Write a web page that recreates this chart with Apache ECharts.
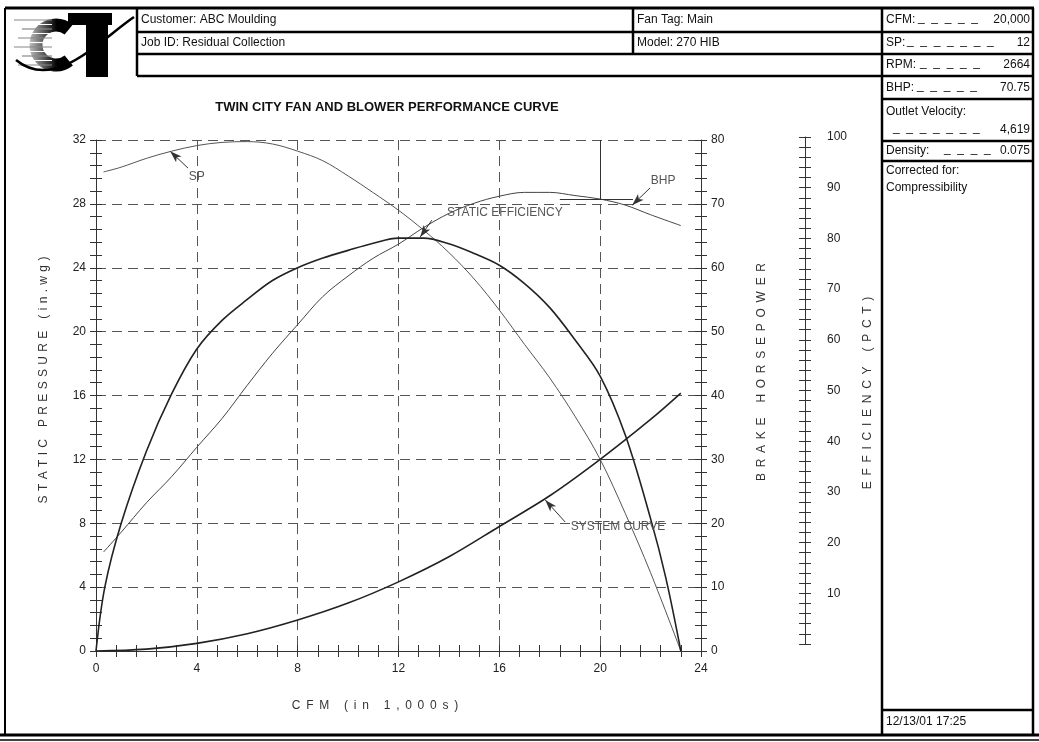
<!DOCTYPE html>
<html><head><meta charset="utf-8">
<script src="https://cdn.jsdelivr.net/npm/echarts@6/dist/echarts.min.js"></script>
<style>html,body{margin:0;padding:0;background:#fff}#c{width:1039px;height:742px}</style>
</head><body><div id="c"></div>
<script>
const FONT = '"Liberation Sans", Arial, sans-serif';

// ---------- data ----------
const spCfm     = [0.3, 1, 2, 3, 4, 5, 6, 7, 8, 9, 10, 11, 12, 13, 14, 15, 16, 17, 18, 19, 20, 21, 22, 23.2];
const spValues  = [30.0, 30.3, 30.85, 31.3, 31.65, 31.85, 31.9, 31.75, 31.3, 30.7, 29.75, 28.7, 27.6, 26.35, 24.95, 23.3, 21.35, 19.2, 17.1, 14.7, 12.0, 8.6, 4.9, 0];

const bhpCfm    = [0.3, 1, 2, 3, 4, 5, 6, 7, 8, 9, 10, 11, 12, 13, 14, 15, 16, 17, 18, 19, 20, 21, 22, 23.2];
const bhpValues = [15.5, 18.6, 23.2, 27.3, 31.9, 36.4, 41.6, 46.6, 51.1, 55.5, 58.7, 61.5, 63.7, 66.3, 68.5, 70.1, 71.2, 71.8, 71.8, 71.3, 70.75, 69.8, 68.3, 66.6];

const effCfm    = [0, 0.35, 1, 2, 3, 4, 5, 6, 7, 8, 9, 10, 11, 12, 13, 14, 15, 16, 17, 18, 19, 20, 21, 22, 22.6, 23.2];
const effValues = [0, 12.5, 25.0, 39.1, 50.3, 59.1, 64.7, 68.8, 72.5, 75.0, 76.9, 78.4, 79.8, 80.8, 80.8, 79.7, 77.8, 75.5, 71.9, 67.2, 60.9, 53.8, 42.2, 25.9, 14.4, 0];

const sysCfm    = [0, 2, 4, 6, 8, 10, 12, 14, 16, 18, 20, 22, 23.2];
const sysValues = [0, 0.12, 0.48, 1.08, 1.94, 3.0, 4.33, 5.9, 7.8, 9.72, 12.0, 14.5, 16.15];

const opCfm = 20, opSp = 12, opBhp = 70.75;

const headerLeft  = ['Customer: ABC Moulding', 'Job ID: Residual Collection'];
const headerMid   = ['Fan Tag: Main', 'Model: 270 HIB'];
const specLabels  = ['CFM:', 'SP:', 'RPM:', 'BHP:'];
const specValues  = ['20,000', '12', '2664', '70.75'];
const specDashes  = [5, 7, 5, 5];
const outletVelocity = '4,619';
const densityValue = '0.075';
const dateStamp = '12/13/01 17:25';

// annotation anchor points (data space)
const notes = {
  sp:  {tip: [2.94, 31.3],  elbow: [3.65, 30.24], label: [4.0, 29.7],   text: 'SP'},
  bhp: {tip: [21.27, 69.8], elbow: [21.98, 72.5], label: [22.5, 73.6],  text: 'BHP'},
  eff: {tip: [12.86, 81.0], elbow: [13.32, 84.3], label: [16.22, 85.7], text: 'STATIC EFFICIENCY'},
  sys: {tip: [17.82, 9.46], elbow: [18.61, 8.08], label: [20.71, 7.76], text: 'SYSTEM CURVE'}
};

// ---------- helpers ----------
const zip = (a, b) => a.map((x, i) => [x, b[i]]);
const dashes = n => Array(n).fill('_').join('  ');
const spaced = (s, sep) => s.split('').join(sep || '\u2009 ');
function arrowMark(n) {
  return {
    silent: true, animation: false,
    lineStyle: {color: '#333', width: 1, type: 'solid'},
    label: {show: false},
    data: [[{coord: n.tip, symbol: 'arrow', symbolSize: [6, 12], itemStyle: {color: '#222'}}, {coord: n.elbow, symbol: 'none'}]]
  };
}
function labelMark(n) {
  return {
    silent: true, animation: false, symbol: 'circle', symbolSize: 0,
    label: {show: true, position: 'inside', formatter: n.text, color: '#555', fontSize: 12, fontFamily: FONT},
    data: [{coord: n.label}]
  };
}
const gl = (x1, y1, x2, y2, w) => ({type: 'line', shape: {x1, y1, x2, y2}, style: {stroke: '#000', lineWidth: w || 2.5}, silent: true});
const gt = (x, y, text, o) => ({type: 'text', x, y, silent: true, style: Object.assign({text, fill: '#111', font: '12px ' + FONT, textVerticalAlign: 'middle'}, o || {})});

const tickStyle = {color: '#333', width: 1};
function valueAxisBase(extra) {
  return Object.assign({
    type: 'value',
    axisLine: {show: true, onZero: false, lineStyle: {color: '#333', width: 1}},
    axisTick: {show: true, length: 6, lineStyle: tickStyle},
    minorTick: {show: true, splitNumber: 5, length: 6, lineStyle: tickStyle},
    axisLabel: {color: '#222', fontSize: 12, fontFamily: FONT},
    splitLine: {show: false}
  }, extra);
}
function innerDup(extra) {
  return Object.assign({
    type: 'value',
    axisLine: {show: false, onZero: false},
    axisTick: {show: true, inside: true, length: 6, lineStyle: tickStyle},
    minorTick: {show: true, splitNumber: 5, length: 6, lineStyle: tickStyle},
    axisLabel: {show: false},
    splitLine: {show: false}
  }, extra);
}
const dashGrid = {show: true, lineStyle: {color: '#555', width: 1, type: [10, 6]}};

// ---------- graphic (header table, logo, titles) ----------
const g = [];
// outer frame
g.push(gl(5, 8, 1034, 8, 3));
g.push(gl(5, 8, 5, 736, 2));
g.push(gl(1033, 8, 1033, 735, 2.5));
g.push(gl(0, 735, 1039, 735, 3));
g.push(gl(0, 740, 1039, 740, 1.5));
// header grid
g.push(gl(137, 8, 137, 76));
g.push(gl(137, 32, 1033, 32));
g.push(gl(137, 54, 1033, 54));
g.push(gl(137, 76, 1033, 76));
g.push(gl(633, 8, 633, 54));
g.push(gl(882, 8, 882, 735));
[99, 141, 161, 710].forEach(y => g.push(gl(882, y, 1033, y)));
// header texts
g.push(gt(141, 20, headerLeft[0]));
g.push(gt(141, 43, headerLeft[1]));
g.push(gt(637, 20, headerMid[0]));
g.push(gt(637, 43, headerMid[1]));
const specY = [20, 43, 65, 88];
const dashX = [918, 907, 920, 917];
specLabels.forEach((s, i) => {
  g.push(gt(886, specY[i], s));
  g.push(gt(dashX[i], specY[i] - 2, dashes(specDashes[i])));
  g.push(gt(1030, specY[i], specValues[i], {textAlign: 'right'}));
});
g.push(gt(886, 112, 'Outlet Velocity:'));
g.push(gt(893, 128, dashes(7)));
g.push(gt(1030, 130, outletVelocity, {textAlign: 'right'}));
g.push(gt(886, 151, 'Density:'));
g.push(gt(944, 149, dashes(4)));
g.push(gt(1030, 151, densityValue, {textAlign: 'right'}));
g.push(gt(886, 171, 'Corrected for:'));
g.push(gt(886, 188, 'Compressibility'));
g.push(gt(886, 722, dateStamp));
// logo
g.push({type: 'arc', silent: true, shape: {cx: 56, cy: 45, r: 20, startAngle: Math.PI * 0.28, endAngle: Math.PI * 1.72, clockwise: true},
  style: {fill: 'none', lineWidth: 13, stroke: {type: 'linear', x: 0, y: 0, x2: 1, y2: 0, colorStops: [{offset: 0, color: '#bbb'}, {offset: 0.6, color: '#000'}, {offset: 1, color: '#000'}]}}});
for (let i = 0; i < 12; i++) {
  const y = 20 + i * 4.5;
  g.push({type: 'line', silent: true, shape: {x1: 14 + (i % 3) * 4, y1: y, x2: 52, y2: y}, style: {stroke: i % 2 ? '#fff' : '#888', lineWidth: 1.2}});
}
g.push({type: 'rect', silent: true, shape: {x: 68, y: 13, width: 44, height: 12}, style: {fill: '#000'}});
g.push({type: 'rect', silent: true, shape: {x: 86, y: 13, width: 22, height: 64}, style: {fill: '#000'}});
g.push({type: 'bezierCurve', silent: true, shape: {x1: 16, y1: 60, cpx1: 55, cpy1: 92, cpx2: 100, cpy2: 40, x2: 134, y2: 17}, style: {stroke: '#000', lineWidth: 2.5, fill: 'none'}});
// title & axis titles
g.push(gt(387, 107, 'TWIN CITY FAN AND BLOWER PERFORMANCE CURVE', {textAlign: 'center', font: 'bold 13px ' + FONT}));
g.push(gt(375, 706, spaced('CFM (in 1,000s)'), {textAlign: 'center', fill: '#333'}));
g.push(Object.assign(gt(44, 380, spaced('STATIC PRESSURE (in.wg)', '\u200A '), {textAlign: 'center', fill: '#333'}), {rotation: Math.PI / 2}));
g.push(Object.assign(gt(762, 372, spaced('BRAKE HORSEPOWER'), {textAlign: 'center', fill: '#333'}), {rotation: Math.PI / 2}));
g.push(Object.assign(gt(868, 393, spaced('EFFICIENCY (PCT)'), {textAlign: 'center', fill: '#333'}), {rotation: Math.PI / 2}));

// ---------- chart ----------
const chart = echarts.init(document.getElementById('c'));
const curve = {type: 'line', xAxisIndex: 0, smooth: 0.35, showSymbol: false};
chart.setOption({
  animation: false,
  backgroundColor: '#fff',
  grid: [
    {left: 96, top: 140, width: 605, height: 511},
    {left: 804, top: 137, width: 1, height: 507}
  ],
  xAxis: [
    valueAxisBase({gridIndex: 0, position: 'bottom', min: 0, max: 24, interval: 4,
      axisLabel: {color: '#222', fontSize: 12, fontFamily: FONT, margin: 12}, splitLine: dashGrid}),
    innerDup({gridIndex: 0, position: 'bottom', min: 0, max: 24, interval: 4}),
    {gridIndex: 1, type: 'value', show: false, min: 0, max: 1}
  ],
  yAxis: [
    valueAxisBase({gridIndex: 0, position: 'left', min: 0, max: 32, interval: 4,
      axisLabel: {color: '#222', fontSize: 12, fontFamily: FONT, margin: 10}, splitLine: dashGrid}),
    valueAxisBase({gridIndex: 0, position: 'right', min: 0, max: 80, interval: 10,
      axisLabel: {color: '#222', fontSize: 12, fontFamily: FONT, margin: 10}}),
    {gridIndex: 0, type: 'value', show: false, min: 0, max: 100},
    innerDup({gridIndex: 0, position: 'left', min: 0, max: 32, interval: 4}),
    innerDup({gridIndex: 0, position: 'right', min: 0, max: 80, interval: 10}),
    valueAxisBase({gridIndex: 1, position: 'right', min: 0, max: 100, interval: 10,
      axisLabel: {color: '#222', fontSize: 12, fontFamily: FONT, margin: 22, formatter: v => v === 0 ? '' : String(v)}}),
    innerDup({gridIndex: 1, position: 'right', min: 0, max: 100, interval: 10})
  ],
  series: [
    Object.assign({}, curve, {name: 'SP', yAxisIndex: 0, data: zip(spCfm, spValues),
      lineStyle: {color: '#555', width: 1}, z: 3,
      markLine: arrowMark(notes.sp), markPoint: labelMark(notes.sp)}),
    Object.assign({}, curve, {name: 'BHP', yAxisIndex: 1, data: zip(bhpCfm, bhpValues),
      lineStyle: {color: '#444', width: 1}, z: 3,
      markLine: Object.assign(arrowMark(notes.bhp), {
        data: arrowMark(notes.bhp).data.concat([
          [{coord: [opCfm - 1.6, opBhp], symbol: 'none'}, {coord: [opCfm + 1.3, opBhp], symbol: 'none'}],
          [{coord: [opCfm, opBhp], symbol: 'none'}, {coord: [opCfm, 80], symbol: 'none'}]
        ])}),
      markPoint: labelMark(notes.bhp)}),
    Object.assign({}, curve, {name: 'Static Efficiency', yAxisIndex: 2, data: zip(effCfm, effValues),
      lineStyle: {color: '#222', width: 1.6}, z: 4,
      markLine: arrowMark(notes.eff), markPoint: labelMark(notes.eff)}),
    Object.assign({}, curve, {name: 'System Curve', yAxisIndex: 0, data: zip(sysCfm, sysValues),
      lineStyle: {color: '#222', width: 1.6}, z: 4,
      markLine: Object.assign(arrowMark(notes.sys), {
        data: arrowMark(notes.sys).data.concat([
          [{coord: [opCfm, opSp], symbol: 'none'}, {coord: [opCfm + 1.4, opSp], symbol: 'none'}]
        ])}),
      markPoint: labelMark(notes.sys)})
  ],
  graphic: g
});
</script></body></html>
